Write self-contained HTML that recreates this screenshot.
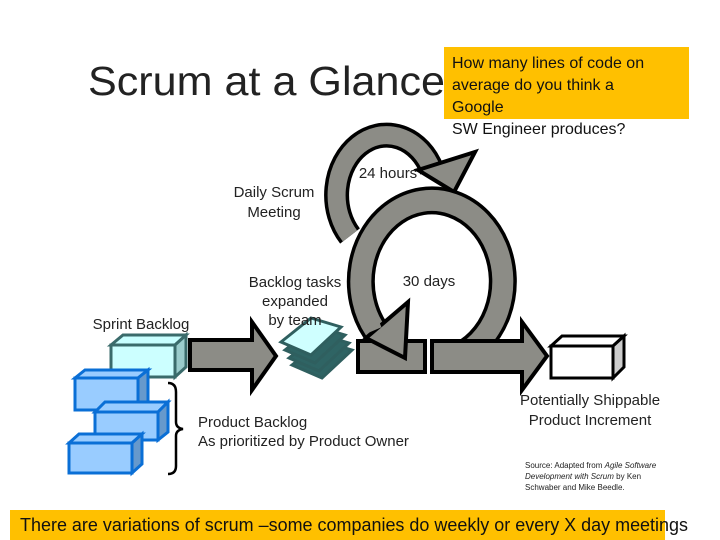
<!DOCTYPE html>
<html><head><meta charset="utf-8"><style>
body{margin:0;background:#fff;}
svg{display:block;font-family:"Liberation Sans",Arial,sans-serif;}
</style></head><body>
<svg width="720" height="540" viewBox="0 0 720 540" xmlns="http://www.w3.org/2000/svg">
<rect width="720" height="540" fill="#fff"/>
<text x="88" y="95" font-size="41" fill="#222" textLength="357" lengthAdjust="spacingAndGlyphs">Scrum at a Glance</text>
<!-- small loop -->
<path d="M350,236 A50,60 0 1 1 432,170" fill="none" stroke="#000" stroke-width="25"/>
<path d="M350,236 A50,60 0 1 1 432,170" fill="none" stroke="#8c8c86" stroke-width="18"/>
<polygon points="418,170 475,152 454,192" fill="#8c8c86" stroke="#000" stroke-width="4"/>
<!-- big loop -->
<path d="M375,330 A71,81 0 1 1 455,358" fill="none" stroke="#000" stroke-width="28"/>
<path d="M375,330 A71,81 0 1 1 455,358" fill="none" stroke="#8c8c86" stroke-width="21"/>
<rect x="358" y="341" width="67" height="31" fill="#8c8c86" stroke="#000" stroke-width="4"/>
<polygon points="432,341 522,341 522,322 547,356 522,390 522,372 432,372" fill="#8c8c86" stroke="#000" stroke-width="4"/>
<polygon points="366,338 408,302 405,358" fill="#8c8c86" stroke="#000" stroke-width="4"/>
<path d="M375,330 A71,81 0 0 1 372,322" fill="none" stroke="#8c8c86" stroke-width="14"/>
<!-- first arrow -->
<polygon points="190,340 252,340 252,322 276,356 252,390 252,370 190,370" fill="#8c8c86" stroke="#000" stroke-width="4"/>
<!-- tasks stack -->
<g stroke="#2f5f5f" stroke-width="3" fill="#2f6464">
<polygon points="292,365 322,341 352,350 322,378"/>
<polygon points="289,358 319,334 349,343 319,371"/>
<polygon points="285,350 315,326 345,335 315,363"/>
<polygon points="281,342 311,318 341,327 311,355" fill="#cfffff"/>
</g>
<!-- sprint backlog box -->
<g stroke="#3a6b6b" stroke-width="3">
<polygon points="111,345 123,335 186,335 175,345" fill="#c8ffff"/>
<polygon points="175,345 186,335 186,367 175,377" fill="#9acccc"/>
<rect x="111" y="345" width="64" height="32" fill="#ccffff"/>
</g>
<!-- product backlog boxes -->
<g stroke="#0a6fd6" stroke-width="3">
<polygon points="75,378 85,370 148,370 138,378" fill="#99ccff"/>
<polygon points="138,378 148,370 148,402 138,410" fill="#6699cc"/>
<rect x="75" y="378" width="63" height="32" fill="#99ccff"/>
<polygon points="95,412 105,402 168,402 158,412" fill="#99ccff"/>
<polygon points="158,412 168,402 168,432 158,440" fill="#6699cc"/>
<rect x="95" y="412" width="63" height="28" fill="#99ccff"/>
<polygon points="69,443 79,434 142,434 132,443" fill="#99ccff"/>
<polygon points="132,443 142,434 142,464 132,473" fill="#6699cc"/>
<rect x="69" y="443" width="63" height="30" fill="#99ccff"/>
</g>
<path d="M168,383 Q176,383 176,392 L176,422 Q176,428 183,429 Q176,430 176,436 L176,466 Q176,474 168,474" fill="none" stroke="#000" stroke-width="2.5"/>
<!-- shippable box -->
<g stroke="#000" stroke-width="3">
<polygon points="551,346 562,336 624,336 613,346" fill="#fff"/>
<polygon points="613,346 624,336 624,367 613,378" fill="#ccc"/>
<rect x="551" y="346" width="62" height="32" fill="#fff"/>
</g>
<g font-size="15" fill="#222" text-anchor="middle">
<text x="388" y="178">24 hours</text>
<text x="274" y="197">Daily Scrum</text>
<text x="274" y="217">Meeting</text>
<text x="429" y="286">30 days</text>
<text x="295" y="287">Backlog tasks</text>
<text x="295" y="306">expanded</text>
<text x="295" y="325">by team</text>
<text x="141" y="329">Sprint Backlog</text>
<text x="590" y="405">Potentially Shippable</text>
<text x="590" y="425">Product Increment</text>
</g>
<g font-size="15" fill="#222">
<text x="198" y="427">Product Backlog</text>
<text x="198" y="446">As prioritized by Product Owner</text>
</g>
<g font-size="8" fill="#222">
<text x="525" y="468">Source: Adapted from <tspan font-style="italic">Agile Software</tspan></text>
<text x="525" y="479"><tspan font-style="italic">Development with Scrum</tspan> by Ken</text>
<text x="525" y="490">Schwaber and Mike Beedle.</text>
</g>
<rect x="444" y="47" width="245" height="72" fill="#ffc000"/>
<g font-size="16" fill="#111">
<text x="452" y="68">How many lines of code on</text>
<text x="452" y="90">average do you think a</text>
<text x="452" y="112">Google</text>
<text x="452" y="134">SW Engineer produces?</text>
</g>
<rect x="10" y="510" width="655" height="30" fill="#ffc000"/>
<text x="20" y="531" font-size="18" fill="#111" textLength="668" lengthAdjust="spacingAndGlyphs">There are variations of scrum –some companies do weekly or every X day meetings</text>
</svg>
</body></html>
